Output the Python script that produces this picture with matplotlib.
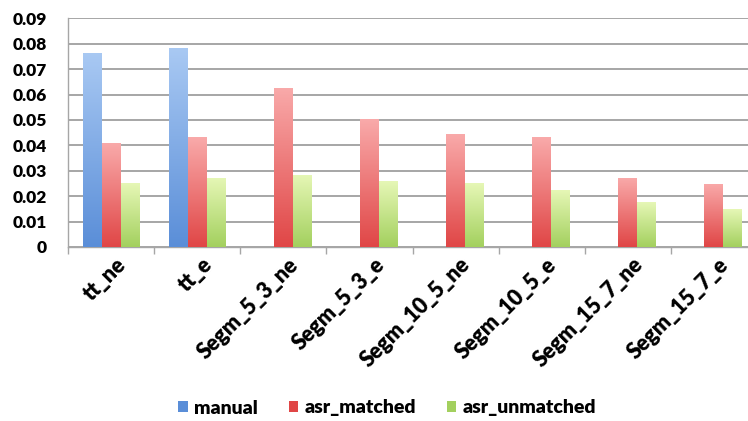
import numpy as np
import matplotlib
matplotlib.use("Agg")
import matplotlib.pyplot as plt
from matplotlib.colors import LinearSegmentedColormap
from matplotlib.transforms import ScaledTranslation

plt.rcParams['font.family'] = ['Lato', 'DejaVu Sans']
plt.rcParams['font.weight'] = 'heavy'

categories = ["tt_ne", "tt_e", "Segm_5_3_ne", "Segm_5_3_e",
              "Segm_10_5_ne", "Segm_10_5_e", "Segm_15_7_ne", "Segm_15_7_e"]
manual = [0.0764, 0.0783, 0, 0, 0, 0, 0, 0]
asr_matched = [0.0409, 0.0431, 0.0626, 0.0502, 0.0444, 0.0431, 0.0272, 0.0248]
asr_unmatched = [0.0250, 0.0272, 0.0285, 0.0259, 0.0251, 0.0223, 0.0176, 0.0148]

series = [
    ("manual", manual, "#a9c9f3", "#5a8ed8"),
    ("asr_matched", asr_matched, "#f9aaaa", "#e04646"),
    ("asr_unmatched", asr_unmatched, "#e6f7b6", "#a3d05e"),
]

fig = plt.figure(figsize=(7.48, 4.21), dpi=100)
ax = fig.add_axes([68 / 748, 1 - 247 / 421, (757 - 68) / 748, (247 - 18.3) / 421])

x = np.arange(len(categories))
width = 0.22
offsets = [-width, 0, width]

grad = np.linspace(0, 1, 256).reshape(-1, 1)
for (name, vals, top, bottom), off in zip(series, offsets):
    bars = ax.bar(x + off, vals, width, color=bottom, label=name, zorder=2, linewidth=0)
    cmap = LinearSegmentedColormap.from_list(name, [bottom, top])
    for b in bars:
        h = b.get_height()
        if h <= 0:
            continue
        x0 = b.get_x()
        im = ax.imshow(grad, cmap=cmap, origin="lower", aspect="auto",
                       extent=(x0, x0 + b.get_width(), 0, h), zorder=3,
                       interpolation="bilinear")
        im.set_clip_path(b)

ax.set_xlim(-0.5, len(categories) - 0.5)
ax.set_ylim(0, 0.09)
ax.set_yticks(np.arange(0, 0.091, 0.01))
ax.set_yticklabels(["0"] + [f"{v:.2f}" for v in np.arange(0.01, 0.091, 0.01)])
ax.yaxis.grid(True, color="#a6a6a6", linewidth=1.4, zorder=0)
ax.set_axisbelow(True)

ax.set_xticks(x)
ax.set_xticks(np.arange(-0.5, len(categories)), minor=True)
ax.tick_params(axis="x", which="major", length=0, pad=0)
ax.tick_params(axis="x", which="minor", length=5, color="#a6a6a6", width=1)
ax.tick_params(axis="y", length=0, pad=15, labelsize=12.5)
ax.set_xticklabels(categories, fontsize=15.5, rotation=45, ha="right", va="top",
                   rotation_mode="anchor")
shift = ScaledTranslation(3 / 72, -5 / 72, fig.dpi_scale_trans)
for lbl in ax.get_xticklabels():
    lbl.set_transform(lbl.get_transform() + shift)

for s in ["top", "right"]:
    ax.spines[s].set_visible(False)
for s in ["left", "bottom"]:
    ax.spines[s].set_color("#a6a6a6")
    ax.spines[s].set_linewidth(1.0)

leg = fig.legend(loc="center", bbox_to_anchor=(387 / 748, 1 - 408 / 421), ncol=3,
                 frameon=False, fontsize=14, handlelength=0.5, handleheight=0.5,
                 handletextpad=0.3, columnspacing=1.6)

fig.savefig("out.png", dpi=100)
